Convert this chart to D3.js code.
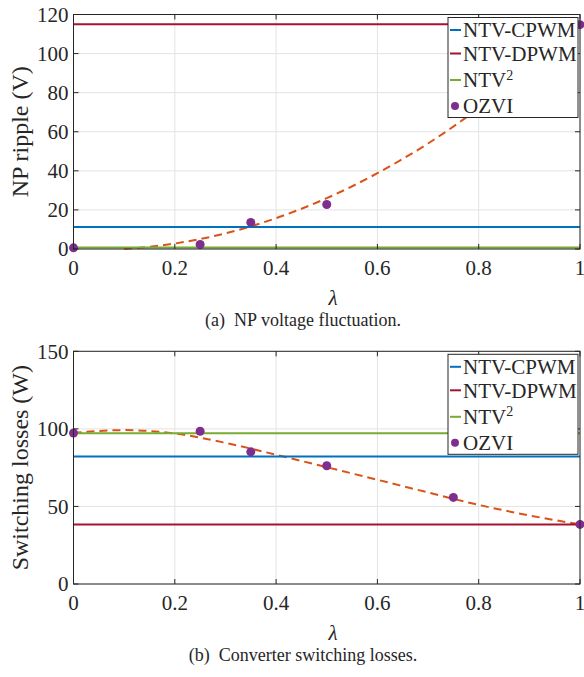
<html>
<title>NP ripple and switching losses vs lambda</title>
<script src='https://d3js.org/d3.v7.min.js'></script>
<style>
body { margin: 0; background: white; }
svg text { fill: #262626; }
</style>
<body>
<svg width=584 height=677 font-family="'Liberation Serif', 'DejaVu Serif', 'Times New Roman', Times, serif"></svg>
<script>
// ---- data ----
var lambdaTicks = [0, 0.2, 0.4, 0.6, 0.8, 1];
var lambdaTickLabels = ["0", "0.2", "0.4", "0.6", "0.8", "1"];
var rippleTicks = [0, 20, 40, 60, 80, 100, 120];
var lossTicks = [0, 50, 100, 150];

var seriesNames = ["NTV-CPWM", "NTV-DPWM", "NTV", "OZVI"];
var seriesColors = ["#0072BD", "#A2142F", "#77AC30", "#7E2F8E"];

// constant levels: CPWM, DPWM, NTV^2
var rippleLevels = [11.2, 115, 0.8];
var lossLevels = [82.2, 38.4, 97.2];

// OZVI points
var rippleOzviLambda = [0, 0.25, 0.35, 0.5, 1];
var rippleOzvi = [0.6, 2.3, 13.6, 22.8, 114.8];
var lossOzviLambda = [0, 0.25, 0.35, 0.5, 0.75, 1];
var lossOzvi = [97.3, 98.5, 85.2, 76.2, 55.8, 38.4];

// dashed fitted curves
var rippleFitLambda = [0.1, 0.2, 0.3, 0.4, 0.5, 0.6, 0.7, 0.8, 0.9, 1];
var rippleFit = [0, 2.8, 8, 15.8, 26, 38.8, 54, 72, 92.3, 115];
var lossFitLambda = [0, 0.1, 0.2, 0.3, 0.4, 0.5, 0.6, 0.7, 0.8, 0.9, 1];
var lossFit = [97.5, 99.2, 97, 91, 83.3, 75.3, 67.2, 59, 51, 44.2, 38.4];

var svg = d3.select("svg");

function panel(p) {
  var x = d3.scaleLinear().domain([0, 1]).range([73.5, 580]);
  var y = d3.scaleLinear().domain([0, p.ymax]).range([p.bottom, p.top]);
  var g = svg.append("g");

  // grid
  g.selectAll(".gx").data(lambdaTicks).enter().append("line")
    .attr("x1", d => x(d)).attr("x2", d => x(d))
    .attr("y1", p.top).attr("y2", p.bottom)
    .style("stroke", "#e3e3e3").style("stroke-width", 1);
  g.selectAll(".gy").data(p.yticks).enter().append("line")
    .attr("x1", x(0)).attr("x2", x(1))
    .attr("y1", d => y(d)).attr("y2", d => y(d))
    .style("stroke", "#e3e3e3").style("stroke-width", 1);

  // fitted dashed curve
  var pts = p.fitX.map((v, i) => [v, p.fitY[i]]);
  g.append("path").datum(pts)
    .attr("d", d3.line().x(d => x(d[0])).y(d => y(d[1])).curve(d3.curveMonotoneX))
    .style("fill", "none").style("stroke", "#D95319")
    .style("stroke-width", 2).style("stroke-dasharray", "8,5");

  // constant lines
  g.selectAll(".lvl").data(p.levels).enter().append("line")
    .attr("x1", x(0)).attr("x2", x(1))
    .attr("y1", d => y(d)).attr("y2", d => y(d))
    .style("stroke", (d, i) => seriesColors[i]).style("stroke-width", 2);

  // OZVI dots
  g.selectAll("circle").data(p.ozviX).enter().append("circle")
    .attr("cx", d => x(d)).attr("cy", (d, i) => y(p.ozvi[i]))
    .attr("r", 4.5).style("fill", "#7E2F8E");

  // box + inward ticks
  g.append("rect").attr("x", x(0)).attr("y", p.top)
    .attr("width", x(1) - x(0)).attr("height", p.bottom - p.top)
    .style("fill", "none").style("stroke", "#262626").style("stroke-width", 1);
  var tl = 5;
  g.selectAll(".tx").data(lambdaTicks).enter().append("path")
    .attr("d", d => "M" + x(d) + "," + p.bottom + "v" + (-tl) + "M" + x(d) + "," + p.top + "v" + tl)
    .style("stroke", "#262626");
  g.selectAll(".ty").data(p.yticks).enter().append("path")
    .attr("d", d => "M" + x(0) + "," + y(d) + "h" + tl + "M" + x(1) + "," + y(d) + "h" + (-tl))
    .style("stroke", "#262626");

  // tick labels
  g.selectAll(".lx").data(lambdaTicks).enter().append("text")
    .attr("x", d => x(d)).attr("y", p.bottom + 26)
    .attr("text-anchor", "middle").style("font-size", "21px")
    .text((d, i) => lambdaTickLabels[i]);
  g.selectAll(".ly").data(p.yticks).enter().append("text")
    .attr("x", x(0) - 5).attr("y", d => y(d)).attr("dy", "0.35em")
    .attr("text-anchor", "end").style("font-size", "21px")
    .text(d => d);

  // axis titles
  g.append("text")
    .attr("transform", "translate(28," + ((p.top + p.bottom) / 2) + ") rotate(-90)")
    .attr("text-anchor", "middle").style("font-size", "24px")
    .text(p.ylabel);
  g.append("text").attr("x", 333).attr("y", p.bottom + 56)
    .attr("text-anchor", "middle").style("font-size", "21px").style("font-style", "italic")
    .text("\u03bb");
  g.append("text").attr("x", 303).attr("y", p.bottom + 77)
    .attr("text-anchor", "middle").style("font-size", "18px")
    .attr("xml:space", "preserve")
    .text(p.caption);

  // legend
  var lg = g.append("g").attr("transform", "translate(448," + (p.top + 3) + ")");
  lg.append("rect").attr("width", 130).attr("height", 100)
    .style("fill", "white").style("stroke", "#262626").style("stroke-width", 1);
  var rowY = [12.5, 36, 62.5, 88.5];
  seriesNames.forEach(function(name, i) {
    if (i < 3) {
      lg.append("line").attr("x1", 2).attr("x2", 13)
        .attr("y1", rowY[i]).attr("y2", rowY[i])
        .style("stroke", seriesColors[i]).style("stroke-width", 2);
    } else {
      lg.append("circle").attr("cx", 7).attr("cy", rowY[i]).attr("r", 4)
        .style("fill", seriesColors[i]);
    }
    var t = lg.append("text").attr("x", 15).attr("y", rowY[i]).attr("dy", "0.35em")
      .style("font-size", "21px").text(name);
    if (i == 2) t.append("tspan").attr("dy", "-0.55em").style("font-size", "14px").text("2");
  });
}

panel({ top: 14.5, bottom: 249, ymax: 120, yticks: rippleTicks, levels: rippleLevels,
        ozviX: rippleOzviLambda, ozvi: rippleOzvi, fitX: rippleFitLambda, fitY: rippleFit,
        ylabel: "NP ripple (V)", caption: "(a)  NP voltage fluctuation." });
panel({ top: 351.3, bottom: 584, ymax: 150, yticks: lossTicks, levels: lossLevels,
        ozviX: lossOzviLambda, ozvi: lossOzvi, fitX: lossFitLambda, fitY: lossFit,
        ylabel: "Switching losses (W)", caption: "(b)  Converter switching losses." });
</script>
</body>
</html>
